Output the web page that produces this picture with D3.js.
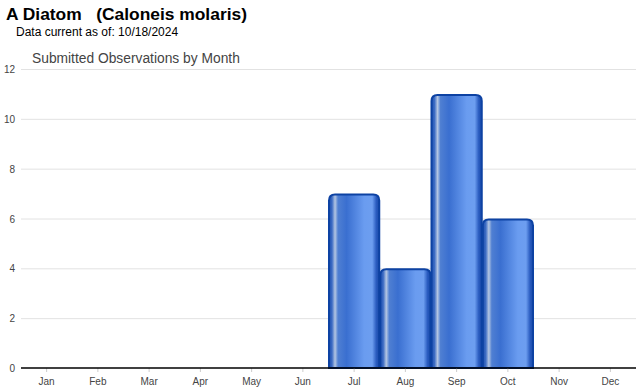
<!DOCTYPE html>
<html>
<head>
<meta charset="utf-8">
<script src="https://cdn.jsdelivr.net/npm/d3@7"></script>
<style>
  body { margin: 0; background: #fff; font-family: Arial, "Liberation Sans", sans-serif; }
  svg text { font-family: Arial, "Liberation Sans", sans-serif; }
</style>
</head>
<body>
<svg id="chart" width="640" height="390"></svg>
<script>
const months = ["Jan", "Feb", "Mar", "Apr", "May", "Jun", "Jul", "Aug", "Sep", "Oct", "Nov", "Dec"];
const counts = [0, 0, 0, 0, 0, 0, 7, 4, 11, 6, 0, 0];
const yTicks = [0, 2, 4, 6, 8, 10, 12];

const width = 640, height = 390;
const margin = {top: 69, right: 4, bottom: 22, left: 21};

const svg = d3.select("#chart");

const x = d3.scaleBand()
    .domain(months)
    .range([margin.left, width - margin.right])
    .padding(0);
const y = d3.scaleLinear()
    .domain([0, 12])
    .range([height - margin.bottom, margin.top]);

// gradient for bars
const defs = svg.append("defs");
const grad = defs.append("linearGradient")
    .attr("id", "barGrad")
    .attr("x1", "0%").attr("x2", "100%").attr("y1", "0%").attr("y2", "0%");
[
  [0, "#1d4fae"], [0.06, "#3d6cc4"], [0.12, "#b4c6e2"], [0.18, "#4f7fd2"],
  [0.35, "#3a6fd0"], [0.7, "#6a9cf0"], [0.86, "#6d9ef0"], [0.94, "#2a5cc0"], [1, "#1a4aa8"]
].forEach(([o, c]) => grad.append("stop").attr("offset", o).attr("stop-color", c));

// titles
svg.append("text")
    .attr("x", 6).attr("y", 20)
    .attr("font-size", 17.4).attr("font-weight", "bold").attr("fill", "#000")
    .style("white-space", "pre")
    .text("A Diatom   (Caloneis molaris)");
svg.append("text")
    .attr("x", 16).attr("y", 36)
    .attr("font-size", 12).attr("fill", "#000")
    .text("Data current as of: 10/18/2024");
svg.append("text")
    .attr("x", 32).attr("y", 63)
    .attr("font-size", 13.8).attr("fill", "#444")
    .text("Submitted Observations by Month");

// grid
svg.append("g")
  .selectAll("line")
  .data(yTicks.filter(d => d > 0))
  .join("line")
    .attr("x1", margin.left).attr("x2", width - margin.right)
    .attr("y1", d => y(d) + 0.5).attr("y2", d => y(d) + 0.5)
    .attr("stroke", "#e2e2e2");

// y labels
svg.append("g")
  .selectAll("text")
  .data(yTicks)
  .join("text")
    .attr("x", 15).attr("y", d => y(d) + 4)
    .attr("text-anchor", "end")
    .attr("font-size", 10).attr("fill", "#444")
    .text(d => d);

// bars
const r = 6;
const barPath = (x0, x1, yTop, yBot) => {
  return `M${x0},${yBot} L${x0},${yTop + r} Q${x0},${yTop} ${x0 + r},${yTop} ` +
         `L${x1 - r},${yTop} Q${x1},${yTop} ${x1},${yTop + r} L${x1},${yBot} Z`;
};
svg.append("g")
  .selectAll("path")
  .data(months.map((m, i) => ({m, v: counts[i]})).filter(d => d.v > 0))
  .join("path")
    .attr("d", d => barPath(x(d.m) + 0.5, x(d.m) + x.bandwidth() - 0.5, y(d.v) + 1, y(0)))
    .attr("fill", "url(#barGrad)")
    .attr("stroke", "#0d42a3")
    .attr("stroke-width", 2);

// x axis
const xAxis = svg.append("g")
    .attr("transform", `translate(0,${y(0)})`)
    .call(d3.axisBottom(x).tickSize(4).tickPadding(6));
xAxis.select(".domain").remove();
xAxis.selectAll(".tick line").attr("stroke", "#ccc");
xAxis.selectAll("text").attr("font-size", 10).attr("fill", "#444")
    .style("font-family", "Arial, 'Liberation Sans', sans-serif");
svg.append("line")
    .attr("x1", margin.left).attr("x2", width - margin.right)
    .attr("y1", y(0)).attr("y2", y(0))
    .attr("stroke", "#000").attr("stroke-width", 1.5);
</script>
</body>
</html>
